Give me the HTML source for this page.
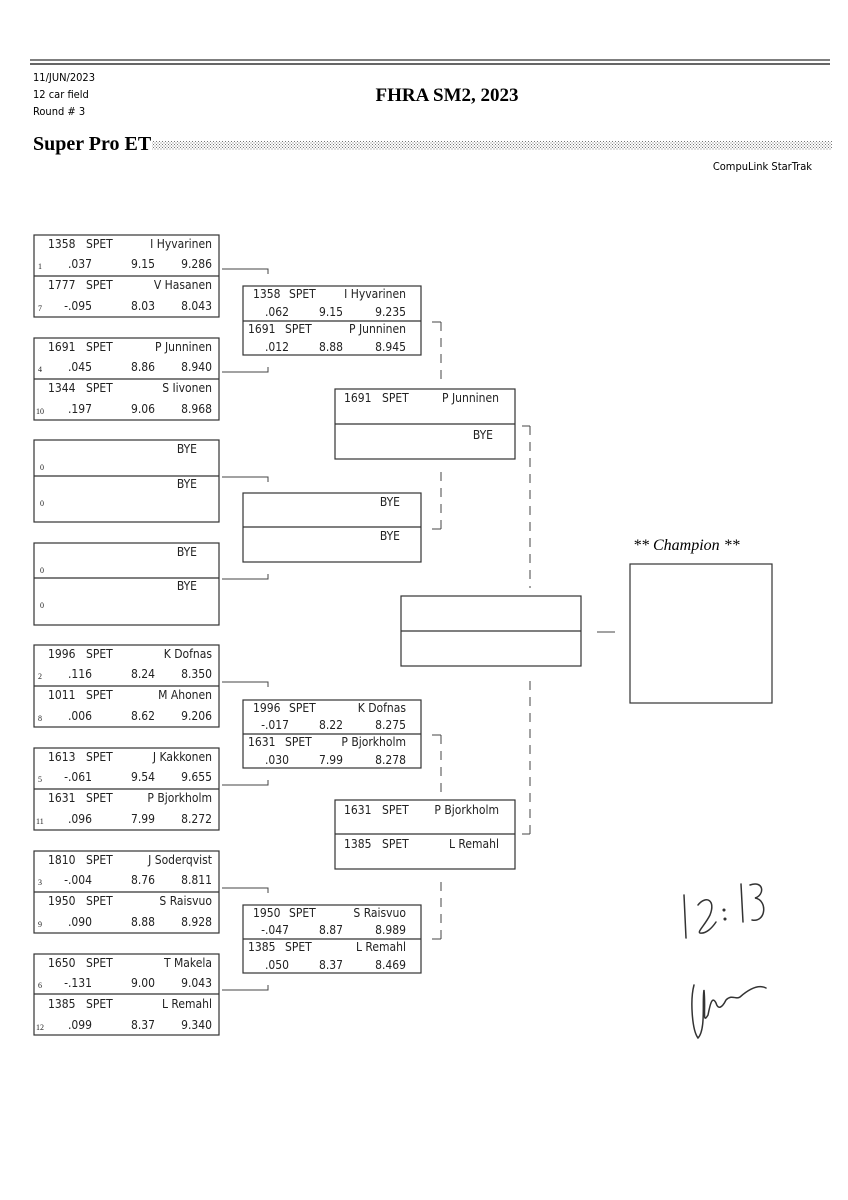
<!DOCTYPE html>
<html><head><meta charset="utf-8"><style>
html,body{margin:0;padding:0;background:#fff}
svg{display:block}
.t{font-family:"DejaVu Sans Condensed","Liberation Sans",sans-serif;font-size:12px;fill:#222}
.e{text-anchor:end}
.s{font-family:"Liberation Serif",serif;font-size:8px;fill:#222}
.b{fill:none;stroke:#333;stroke-width:1.2}
.c{fill:none;stroke:#444;stroke-width:1}
.d{fill:none;stroke:#444;stroke-width:1;stroke-dasharray:9,7}
</style></head><body>
<svg width="848" height="1200" viewBox="0 0 848 1200" xmlns="http://www.w3.org/2000/svg">
<defs><pattern id="dots" width="3" height="3" patternUnits="userSpaceOnUse"><rect width="1" height="1" fill="#777"/><rect x="1.5" y="1.5" width="1" height="1" fill="#777"/></pattern></defs>
<line x1="30" y1="60" x2="830" y2="60" stroke="#555" stroke-width="1.5"/>
<line x1="30" y1="64" x2="830" y2="64" stroke="#333" stroke-width="1.5"/>
<text x="33" y="81" style="font-family:'DejaVu Sans Condensed','Liberation Sans',sans-serif;font-size:11px">11/JUN/2023</text>
<text x="33" y="98" style="font-family:'DejaVu Sans Condensed','Liberation Sans',sans-serif;font-size:11px">12 car field</text>
<text x="33" y="115" style="font-family:'DejaVu Sans Condensed','Liberation Sans',sans-serif;font-size:11px">Round # 3</text>
<text x="447" y="101" text-anchor="middle" style="font-family:'Liberation Serif',serif;font-size:19px;font-weight:bold">FHRA SM2, 2023</text>
<text x="33" y="150" style="font-family:'Liberation Serif',serif;font-size:20px;font-weight:bold">Super Pro ET</text>
<rect x="152" y="141" width="680" height="9" fill="url(#dots)"/>
<text x="812" y="170" text-anchor="end" style="font-family:'DejaVu Sans Condensed','Liberation Sans',sans-serif;font-size:11px">CompuLink StarTrak</text>

<!-- Round 1 -->
<g transform="translate(34,235)"><rect class="b" width="185" height="82"/><line class="b" x1="0" y1="41" x2="185" y2="41"/>
<text class="t" x="14" y="13">1358</text><text class="t" x="52" y="13">SPET</text><text class="t e" x="178" y="13">I Hyvarinen</text>
<text class="s" x="4" y="34">1</text><text class="t e" x="58" y="33">.037</text><text class="t e" x="121" y="33">9.15</text><text class="t e" x="178" y="33">9.286</text>
<text class="t" x="14" y="54">1777</text><text class="t" x="52" y="54">SPET</text><text class="t e" x="178" y="54">V Hasanen</text>
<text class="s" x="4" y="76">7</text><text class="t e" x="58" y="75">-.095</text><text class="t e" x="121" y="75">8.03</text><text class="t e" x="178" y="75">8.043</text></g>
<g transform="translate(34,338)"><rect class="b" width="185" height="82"/><line class="b" x1="0" y1="41" x2="185" y2="41"/>
<text class="t" x="14" y="13">1691</text><text class="t" x="52" y="13">SPET</text><text class="t e" x="178" y="13">P Junninen</text>
<text class="s" x="4" y="34">4</text><text class="t e" x="58" y="33">.045</text><text class="t e" x="121" y="33">8.86</text><text class="t e" x="178" y="33">8.940</text>
<text class="t" x="14" y="54">1344</text><text class="t" x="52" y="54">SPET</text><text class="t e" x="178" y="54">S Iivonen</text>
<text class="s" x="2" y="76">10</text><text class="t e" x="58" y="75">.197</text><text class="t e" x="121" y="75">9.06</text><text class="t e" x="178" y="75">8.968</text></g>
<g transform="translate(34,440)"><rect class="b" width="185" height="82"/><line class="b" x1="0" y1="36" x2="185" y2="36"/>
<text class="t e" x="163" y="13">BYE</text><text class="s" x="6" y="30">0</text>
<text class="t e" x="163" y="48">BYE</text><text class="s" x="6" y="66">0</text></g>
<g transform="translate(34,543)"><rect class="b" width="185" height="82"/><line class="b" x1="0" y1="35" x2="185" y2="35"/>
<text class="t e" x="163" y="13">BYE</text><text class="s" x="6" y="30">0</text>
<text class="t e" x="163" y="47">BYE</text><text class="s" x="6" y="65">0</text></g>
<g transform="translate(34,645)"><rect class="b" width="185" height="82"/><line class="b" x1="0" y1="41" x2="185" y2="41"/>
<text class="t" x="14" y="13">1996</text><text class="t" x="52" y="13">SPET</text><text class="t e" x="178" y="13">K Dofnas</text>
<text class="s" x="4" y="34">2</text><text class="t e" x="58" y="33">.116</text><text class="t e" x="121" y="33">8.24</text><text class="t e" x="178" y="33">8.350</text>
<text class="t" x="14" y="54">1011</text><text class="t" x="52" y="54">SPET</text><text class="t e" x="178" y="54">M Ahonen</text>
<text class="s" x="4" y="76">8</text><text class="t e" x="58" y="75">.006</text><text class="t e" x="121" y="75">8.62</text><text class="t e" x="178" y="75">9.206</text></g>
<g transform="translate(34,748)"><rect class="b" width="185" height="82"/><line class="b" x1="0" y1="41" x2="185" y2="41"/>
<text class="t" x="14" y="13">1613</text><text class="t" x="52" y="13">SPET</text><text class="t e" x="178" y="13">J Kakkonen</text>
<text class="s" x="4" y="34">5</text><text class="t e" x="58" y="33">-.061</text><text class="t e" x="121" y="33">9.54</text><text class="t e" x="178" y="33">9.655</text>
<text class="t" x="14" y="54">1631</text><text class="t" x="52" y="54">SPET</text><text class="t e" x="178" y="54">P Bjorkholm</text>
<text class="s" x="2" y="76">11</text><text class="t e" x="58" y="75">.096</text><text class="t e" x="121" y="75">7.99</text><text class="t e" x="178" y="75">8.272</text></g>
<g transform="translate(34,851)"><rect class="b" width="185" height="82"/><line class="b" x1="0" y1="41" x2="185" y2="41"/>
<text class="t" x="14" y="13">1810</text><text class="t" x="52" y="13">SPET</text><text class="t e" x="178" y="13">J Soderqvist</text>
<text class="s" x="4" y="34">3</text><text class="t e" x="58" y="33">-.004</text><text class="t e" x="121" y="33">8.76</text><text class="t e" x="178" y="33">8.811</text>
<text class="t" x="14" y="54">1950</text><text class="t" x="52" y="54">SPET</text><text class="t e" x="178" y="54">S Raisvuo</text>
<text class="s" x="4" y="76">9</text><text class="t e" x="58" y="75">.090</text><text class="t e" x="121" y="75">8.88</text><text class="t e" x="178" y="75">8.928</text></g>
<g transform="translate(34,954)"><rect class="b" width="185" height="81"/><line class="b" x1="0" y1="40" x2="185" y2="40"/>
<text class="t" x="14" y="13">1650</text><text class="t" x="52" y="13">SPET</text><text class="t e" x="178" y="13">T Makela</text>
<text class="s" x="4" y="34">6</text><text class="t e" x="58" y="33">-.131</text><text class="t e" x="121" y="33">9.00</text><text class="t e" x="178" y="33">9.043</text>
<text class="t" x="14" y="54">1385</text><text class="t" x="52" y="54">SPET</text><text class="t e" x="178" y="54">L Remahl</text>
<text class="s" x="2" y="76">12</text><text class="t e" x="58" y="75">.099</text><text class="t e" x="121" y="75">8.37</text><text class="t e" x="178" y="75">9.340</text></g>

<!-- R1 connectors -->
<path class="c" d="M222 269H268V274M222 372H268V367M222 477H268V482M222 579H268V574M222 682H268V687M222 785H268V780M222 888H268V893M222 990H268V985"/>

<!-- Round 2 -->
<g transform="translate(243,286)"><rect class="b" width="178" height="69"/><line class="b" x1="0" y1="35" x2="178" y2="35"/>
<text class="t" x="10" y="12">1358</text><text class="t" x="46" y="12">SPET</text><text class="t e" x="163" y="12">I Hyvarinen</text>
<text class="t e" x="46" y="30">.062</text><text class="t e" x="100" y="30">9.15</text><text class="t e" x="163" y="30">9.235</text>
<text class="t" x="5" y="47">1691</text><text class="t" x="42" y="47">SPET</text><text class="t e" x="163" y="47">P Junninen</text>
<text class="t e" x="46" y="65">.012</text><text class="t e" x="100" y="65">8.88</text><text class="t e" x="163" y="65">8.945</text></g>
<g transform="translate(243,493)"><rect class="b" width="178" height="69"/><line class="b" x1="0" y1="34" x2="178" y2="34"/>
<text class="t e" x="157" y="13">BYE</text><text class="t e" x="157" y="47">BYE</text></g>
<g transform="translate(243,700)"><rect class="b" width="178" height="68"/><line class="b" x1="0" y1="34" x2="178" y2="34"/>
<text class="t" x="10" y="12">1996</text><text class="t" x="46" y="12">SPET</text><text class="t e" x="163" y="12">K Dofnas</text>
<text class="t e" x="46" y="29">-.017</text><text class="t e" x="100" y="29">8.22</text><text class="t e" x="163" y="29">8.275</text>
<text class="t" x="5" y="46">1631</text><text class="t" x="42" y="46">SPET</text><text class="t e" x="163" y="46">P Bjorkholm</text>
<text class="t e" x="46" y="64">.030</text><text class="t e" x="100" y="64">7.99</text><text class="t e" x="163" y="64">8.278</text></g>
<g transform="translate(243,905)"><rect class="b" width="178" height="68"/><line class="b" x1="0" y1="34" x2="178" y2="34"/>
<text class="t" x="10" y="12">1950</text><text class="t" x="46" y="12">SPET</text><text class="t e" x="163" y="12">S Raisvuo</text>
<text class="t e" x="46" y="29">-.047</text><text class="t e" x="100" y="29">8.87</text><text class="t e" x="163" y="29">8.989</text>
<text class="t" x="5" y="46">1385</text><text class="t" x="42" y="46">SPET</text><text class="t e" x="163" y="46">L Remahl</text>
<text class="t e" x="46" y="64">.050</text><text class="t e" x="100" y="64">8.37</text><text class="t e" x="163" y="64">8.469</text></g>

<!-- R2 connectors -->
<path class="c" d="M432 322H441M432 529H441M432 735H441M432 939H441"/>
<path class="d" d="M441 322V385M441 529V470M441 735V792M441 939V882"/>

<!-- Round 3 -->
<g transform="translate(335,389)"><rect class="b" width="180" height="70"/><line class="b" x1="0" y1="35" x2="180" y2="35"/>
<text class="t" x="9" y="13">1691</text><text class="t" x="47" y="13">SPET</text><text class="t e" x="164" y="13">P Junninen</text>
<text class="t e" x="158" y="50">BYE</text></g>
<g transform="translate(335,800)"><rect class="b" width="180" height="69"/><line class="b" x1="0" y1="34" x2="180" y2="34"/>
<text class="t" x="9" y="14">1631</text><text class="t" x="47" y="14">SPET</text><text class="t e" x="164" y="14">P Bjorkholm</text>
<text class="t" x="9" y="48">1385</text><text class="t" x="47" y="48">SPET</text><text class="t e" x="164" y="48">L Remahl</text></g>

<path class="c" d="M522 426H530M522 834H530"/>
<path class="d" d="M530 426V588M530 834V678"/>

<!-- Final -->
<g transform="translate(401,596)"><rect class="b" width="180" height="70"/><line class="b" x1="0" y1="35" x2="180" y2="35"/></g>
<line class="c" x1="597" y1="632" x2="615" y2="632"/>
<text x="633" y="550" style="font-family:'Liberation Serif',serif;font-size:16px;font-style:italic">** Champion **</text>
<rect class="b" x="630" y="564" width="142" height="139"/>

<!-- Handwriting -->
<g fill="none" stroke="#333" stroke-width="1.5" stroke-linecap="round">
<path d="M684 895L686 938"/>
<path d="M698 905C706 895 716 900 710 915C705 925 697 932 700 933C706 934 712 928 716 922"/>
<circle cx="724" cy="910" r="0.8"/><circle cx="725" cy="919" r="0.8"/>
<path d="M741 884L743 922"/>
<path d="M750 885C764 880 765 895 755 898C768 900 766 923 752 920"/>
<path d="M694 985C690 1000 692 1030 698 1038C706 1030 702 1000 704 990C706 1010 702 1025 708 1015C710 1005 712 995 716 1003C718 1010 722 1008 726 1000C732 994 736 1000 740 997C748 990 758 984 766 988"/>
</g>
</svg>
</body></html>
